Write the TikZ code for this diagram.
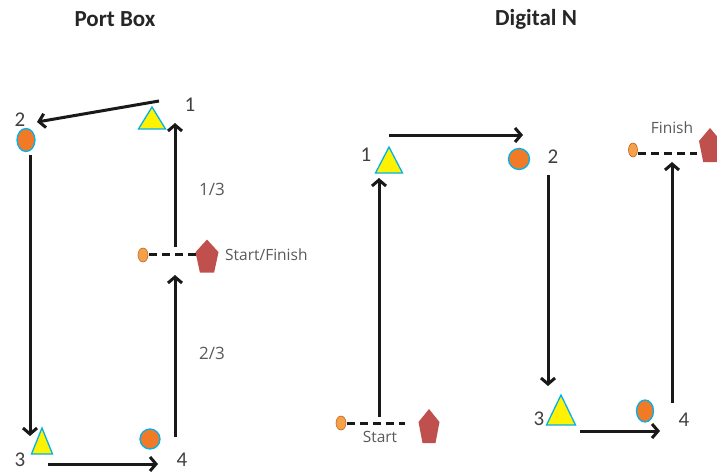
\documentclass[tikz,border=0pt]{standalone}
\usepackage{fontspec}
\setmainfont{Carlito}
\newfontfamily\labfont{Open Sans}
\usetikzlibrary{arrows.meta,shapes.geometric}
\definecolor{outl}{HTML}{00B0F0}
\definecolor{orng}{HTML}{F07A25}
\definecolor{lorng}{HTML}{F5A04A}
\definecolor{pent}{HTML}{C0504D}
\definecolor{txtg}{HTML}{404040}
\definecolor{labg}{HTML}{595959}
\tikzset{
  conn/.style={line width=3pt, draw=black!90, -{Straight Barb[length=6pt,width=14pt]}},
  dashconn/.style={line width=3pt, draw=black!90, dash pattern=on 8pt off 5pt},
  title/.style={font=\fontsize{23}{27}\selectfont\bfseries, text=black!85},
  num/.style={font=\fontsize{21}{24}\selectfont, text=txtg},
  lab/.style={font=\labfont\fontsize{15.5}{18}\selectfont, text=labg},
  frac/.style={font=\labfont\fontsize{17}{20}\selectfont, text=labg},
  bigdot/.style={ellipse, fill=orng, draw=outl, line width=1.3pt, inner sep=0pt},
  smalldot/.style={ellipse, fill=lorng, draw=orng!80!black, line width=0.6pt, inner sep=0pt},
  tri/.pic={\filldraw[fill=yellow, draw=outl, line width=1.3pt]
      (-\tw/2,\th/2) -- (0,-\th/2) -- (\tw/2,\th/2) -- cycle;},
  penta/.pic={\fill[pent]
      (0,-\ph/2) -- (\pw/2,-\ph/2+0.383*\ph) -- (0.309*\pw,\ph/2)
      -- (-0.309*\pw,\ph/2) -- (-\pw/2,-\ph/2+0.383*\ph) -- cycle;}
}
\begin{document}
\begin{tikzpicture}[x=1pt,y=-1pt]
\useasboundingbox (0,0) rectangle (717,472);
% ---------- Port Box ----------
\node[title] (tA) at (115,19) {Port Box};
\coordinate (A1) at (152,118);
\def\tw{27}\def\th{22}\pic at (A1) {tri};
\node[num] (nA1) at (190,105) {1};
\node[num] (nA2) at (20,120) {2};
\node[bigdot, minimum width=18pt, minimum height=23pt] (A2) at (26,140) {};
\coordinate (A3) at (42,441);
\def\tw{21}\def\th{26}\pic at (A3) {tri};
\node[num] (nA3) at (20,460) {3};
\node[bigdot, minimum width=20pt, minimum height=20pt] (A4) at (150,439) {};
\node[num] (nA4) at (182,460) {4};
\node[smalldot, minimum width=10pt, minimum height=14pt] (AS) at (143,255) {};
\coordinate (AP) at (207,256);
\def\pw{23}\def\ph{33}\pic at (AP) {penta};
\node[lab, anchor=west, inner sep=0pt] (AL) at (225,255) {Start/Finish};
\node[frac] (f13) at (212,189) {1/3};
\node[frac] (f23) at (212,353) {2/3};
% connector ends
\coordinate (a12s) at (159,101); \coordinate (a12e) at (37,122);
\coordinate (a23s) at (30,155);  \coordinate (a23e) at (30,436);
\coordinate (a34s) at (48,464);  \coordinate (a34e) at (158,464);
\coordinate (a4Ss) at (175,437); \coordinate (a4Se) at (175,275);
\coordinate (aS1s) at (175,247); \coordinate (aS1e) at (175,123);
\coordinate (ad1) at (149,254);  \coordinate (ad2) at (197,254);
\draw[conn] (a12s) -- (a12e);
\draw[conn] (a23s) -- (a23e);
\draw[conn] (a34s) -- (a34e);
\draw[conn] (a4Ss) -- (a4Se);
\draw[conn] (aS1s) -- (aS1e);
\draw[dashconn] (ad1) -- (ad2);
% ---------- Digital N ----------
\node[title] (tB) at (536,19) {Digital N};
\coordinate (B1) at (389,160);
\def\tw{27}\def\th{26}\pic at (B1) {tri};
\node[num] (nB1) at (366,155) {1};
\node[bigdot, minimum width=21pt, minimum height=21pt] (B2) at (519,159) {};
\node[num] (nB2) at (553,157) {2};
\coordinate (B3) at (561,410);
\def\tw{29}\def\th{30}\pic at (B3) {tri};
\node[num] (nB3) at (539,419) {3};
\node[bigdot, minimum width=17pt, minimum height=22pt] (B4) at (645,411) {};
\node[num] (nB4) at (684,420) {4};
% finish
\node[smalldot, minimum width=9pt, minimum height=14pt] (BF) at (633,150) {};
\coordinate (BFP) at (710,145);
\def\pw{22}\def\ph{34}\pic at (BFP) {penta};
\node[lab] (BFL) at (672,128) {Finish};
% start
\node[smalldot, minimum width=10pt, minimum height=14pt] (BS) at (341,423) {};
\coordinate (BSP) at (429,426);
\def\pw{21}\def\ph{34}\pic at (BSP) {penta};
\node[lab] (BSL) at (380,437) {Start};
% connector ends
\coordinate (bS1s) at (379,417); \coordinate (bS1e) at (379,178);
\coordinate (b12s) at (389,135); \coordinate (b12e) at (523,135);
\coordinate (b23s) at (548,175); \coordinate (b23e) at (548,386);
\coordinate (b34s) at (580,431); \coordinate (b34e) at (660,431);
\coordinate (b4Fs) at (672,403); \coordinate (b4Fe) at (672,162);
\coordinate (bd1) at (638,153);  \coordinate (bd2) at (697,153);
\coordinate (bd3) at (347,423);  \coordinate (bd4) at (405,423);
\draw[conn] (bS1s) -- (bS1e);
\draw[conn] (b12s) -- (b12e);
\draw[conn] (b23s) -- (b23e);
\draw[conn] (b34s) -- (b34e);
\draw[conn] (b4Fs) -- (b4Fe);
\draw[dashconn] (bd1) -- (bd2);
\draw[dashconn] (bd3) -- (bd4);
\end{tikzpicture}
\end{document}
